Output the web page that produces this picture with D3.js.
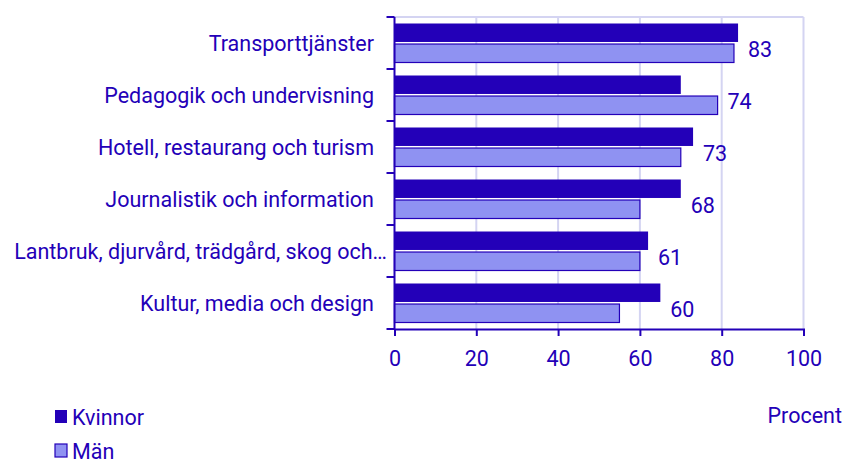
<!DOCTYPE html>
<html>
<head>
<meta charset="utf-8">
<script src="https://cdn.jsdelivr.net/npm/d3@7"></script>
<style>
  body { margin: 0; background: #fff; }
  text { font-family: Roboto, "Noto Sans", sans-serif; fill: #2300b8; font-size: 21.5px; }
</style>
</head>
<body>
<div id="chart"></div>
<script>
// data
var categories = ["Transporttjänster", "Pedagogik och undervisning", "Hotell, restaurang och turism",
                  "Journalistik och information", "Lantbruk, djurvård, trädgård, skog och…", "Kultur, media och design"];
var kvinnor = [84, 70, 73, 70, 62, 65];
var man = [83, 79, 70, 60, 60, 55];
var totals = [83, 74, 73, 68, 61, 60];
var xTicks = [0, 20, 40, 60, 80, 100];
var seriesNames = ["Kvinnor", "Män"];

var dark = "#2300b8", light = "#8f92f2", grid = "#d4d4f2";

var W = 846, H = 460;
var svg = d3.select("#chart").append("svg")
    .attr("width", W)
    .attr("height", H);

// scales
var x = d3.scaleLinear().domain([0, 100]).range([394.5, 803.5]);
var y0 = d3.scaleBand().domain(categories).range([17, 329])
    .paddingInner(0.25).paddingOuter(0.125);
var y1 = d3.scaleBand().domain(seriesNames).range([0, y0.bandwidth()]).paddingInner(0.1);
var step = y0.step();

// gridlines
svg.append("g").selectAll("line")
  .data(xTicks.slice(1))
  .enter().append("line")
    .attr("x1", d => x(d)).attr("x2", d => x(d))
    .attr("y1", 17).attr("y2", 329)
    .attr("stroke", grid).attr("stroke-width", 2);
svg.append("line")
    .attr("x1", x(0)).attr("x2", x(100))
    .attr("y1", 17).attr("y2", 17)
    .attr("stroke", grid).attr("stroke-width", 2);

// bars
var rows = categories.map((c, i) => ({ cat: c, vals: [kvinnor[i], man[i]], total: totals[i] }));
var grp = svg.append("g").selectAll("g")
  .data(rows)
  .enter().append("g")
    .attr("transform", d => "translate(0," + y0(d.cat) + ")");

grp.selectAll("rect")
  .data(d => d.vals.map((v, j) => ({ key: seriesNames[j], v: v })))
  .enter().append("rect")
    .attr("x", x(0))
    .attr("y", d => y1(d.key))
    .attr("width", d => x(d.v) - x(0))
    .attr("height", y1.bandwidth())
    .attr("fill", d => d.key == "Kvinnor" ? dark : light)
    .attr("stroke", dark)
    .attr("stroke-width", d => d.key == "Kvinnor" ? 0 : 1.2);

// value labels (total) just right of the longer bar
grp.append("text")
    .attr("x", d => x(d3.max(d.vals)) + 22)
    .attr("y", 33.5)
    .attr("text-anchor", "middle")
    .text(d => d.total);

// y axis (left) with ticks at band boundaries
svg.append("line")
    .attr("x1", x(0)).attr("x2", x(0))
    .attr("y1", 17).attr("y2", 330)
    .attr("stroke", dark).attr("stroke-width", 2);
svg.append("g").selectAll("line")
  .data(d3.range(categories.length + 1))
  .enter().append("line")
    .attr("x1", x(0) - 8).attr("x2", x(0))
    .attr("y1", i => 17 + i * step).attr("y2", i => 17 + i * step)
    .attr("stroke", dark).attr("stroke-width", 2);

svg.append("g").selectAll("text")
  .data(categories)
  .enter().append("text")
    .attr("x", d => d.endsWith("…") ? 387 : 374)
    .attr("y", d => y0(d) + y0.bandwidth() / 2)
    .attr("dy", "0.35em")
    .attr("text-anchor", "end")
    .text(d => d);

// x axis
var xAxis = svg.append("g")
    .attr("transform", "translate(0,329)")
    .call(d3.axisBottom(x).tickValues(xTicks).tickSize(7).tickPadding(15).tickFormat(d3.format("d")));
xAxis.select(".domain").attr("stroke", dark).attr("stroke-width", 2);
xAxis.selectAll(".tick line").attr("stroke", dark).attr("stroke-width", 2);
xAxis.selectAll(".tick text")
    .attr("fill", dark)
    .style("font-size", "21.5px")
    .style("font-family", "Roboto, sans-serif");

svg.append("text")
    .attr("x", 842).attr("y", 423)
    .attr("text-anchor", "end")
    .text("Procent");

// legend
var leg = svg.append("g").selectAll("g")
  .data(seriesNames)
  .enter().append("g")
    .attr("transform", (d, i) => "translate(55," + (410 + i * 34) + ")");
leg.append("rect")
    .attr("width", 12).attr("height", 13)
    .attr("fill", (d, i) => i == 0 ? dark : light)
    .attr("stroke", dark).attr("stroke-width", (d, i) => i == 0 ? 0 : 1.2);
leg.append("text")
    .attr("x", 17).attr("y", 15)
    .text(d => d);
</script>
</body>
</html>
